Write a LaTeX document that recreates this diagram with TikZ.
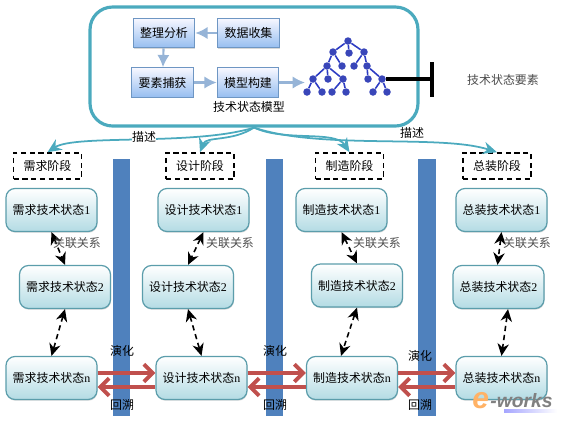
\documentclass[tikz,border=0pt]{standalone}
\usepackage{fontspec}
\setmainfont{Noto Sans CJK SC}
\newfontfamily\latn{Liberation Serif}
\newfontfamily\logofont{Liberation Sans}
\usetikzlibrary{arrows.meta, shadows}
\definecolor{tealline}{RGB}{75,170,190}
\definecolor{barblue}{RGB}{79,129,189}
\definecolor{redflow}{RGB}{192,80,77}
\definecolor{paleflow}{RGB}{150,180,215}
\definecolor{treeblue}{RGB}{45,60,195}
\definecolor{stepbottom}{RGB}{150,190,240}
\definecolor{stepedge}{RGB}{110,150,195}

\begin{document}
\begin{tikzpicture}[
    x=0.02cm, y=-0.02cm,
    every node/.style={font=\fontsize{6.8}{8}\selectfont, inner sep=0pt},
    stepbox/.style={draw=stepedge, line width=0.6pt, minimum width=1.23cm, minimum height=0.59cm, top color=blue!3, bottom color=stepbottom, drop shadow={shadow xshift=0.4pt, shadow yshift=-0.5pt, fill=gray!60}},
    statebox/.style={draw=tealline!70!gray, line width=0.7pt, rounded corners=0.18cm, minimum width=1.82cm, minimum height=0.86cm, top color=white, bottom color=tealline!42, drop shadow={shadow xshift=0.3pt, shadow yshift=-0.7pt, fill=gray!60}},
    stagebox/.style={draw, dash pattern=on 3pt off 2pt, line width=0.9pt, minimum width=1.36cm, minimum height=0.52cm},
    bluebar/.style={fill=barblue, minimum width=0.35cm, minimum height=5.14cm},
    flow/.style={-{Latex[length=7pt,width=7pt]}, paleflow, line width=1.2pt},
    describe/.style={-{Stealth[length=8pt,width=7pt]}, tealline, line width=1pt},
    link/.style={{Stealth[length=7pt,width=6.5pt]}-{Stealth[length=7pt,width=6.5pt]}, dash pattern=on 3pt off 2.2pt, line width=0.9pt},
    evolve/.style={-{Straight Barb[length=5pt,width=10pt,line width=2.2pt]}, redflow, line width=2.4pt},
    treenode/.style={circle, fill=treeblue!85!gray, minimum size=0.15cm},
    graytext/.style={text=black!70}
]
    \useasboundingbox (0,0) rectangle (568,424);

    % model frame
    \node[draw=tealline, line width=1.8pt, rounded corners=0.45cm, minimum width=6.56cm, minimum height=2.38cm] (frame) at (254,66.5) {};
    \node[stepbox] (analyse) at (164,33) {整理分析};
    \node[stepbox] (collect) at (248.5,33) {数据收集};
    \node[stepbox] (capture) at (162.5,82.5) {要素捕获};
    \node[stepbox] (build) at (248,82.5) {模型构建};
    \node (modeltitle) at (249,107) {技术状态模型};
    \draw[flow] (collect) -- (analyse);
    \draw[flow] (analyse) -- (capture);
    \draw[flow] (capture) -- (build);
    \coordinate (treein) at (305,82.5);
    \draw[flow] (build) -- (treein);

    % tree
    \foreach \name/\xpos/\ypos in {a/348/41, b/333/52, c/349/53, d/364/52, e/327/66, f/342/66, g/354/66, h/367/66, i/313/79, j/328/79, k/343/79, l/368/79, m/382/79, n/307/92, o/322/92, p/332/92, q/346/92, r/373/92, s/387/92}
        \node[treenode] (\name) at (\xpos,\ypos) {};
    \foreach \from/\to in {a/b, a/c, a/d, b/e, b/f, d/g, d/h, e/i, e/j, e/k, h/l, h/m, i/n, i/o, k/p, k/q, m/r, m/s}
        \draw[treeblue, line width=0.9pt] (\from) -- (\to);
    \coordinate (barmid) at (432,79);
    \coordinate (bartop) at (432,62);
    \coordinate (barbot) at (432,97);
    \draw[line width=1.8pt] (m) -- (barmid);
    \draw[line width=1.8pt] (bartop) -- (barbot);
    \node[graytext] (elements) at (503,80) {技术状态要素};

    % bars
    \node[bluebar] (bar1) at (121.5,287.5) {};
    \node[bluebar] (bar2) at (274.5,287.5) {};
    \node[bluebar] (bar3) at (427,287.5) {};

    % stages
    \node[stagebox] (reqstage) at (47.5,166) {需求阶段};
    \node[stagebox] (desstage) at (200,166) {设计阶段};
    \node[stagebox] (mfgstage) at (349.5,166) {制造阶段};
    \node[stagebox] (asmstage) at (497,166) {总装阶段};
    \draw[describe] (frame.south) .. controls (195,146) and (75,134) .. (reqstage.north);
    \draw[describe] (frame.south) .. controls (232,142) and (206,136) .. (desstage.north);
    \draw[describe] (frame.south) .. controls (285,142) and (335,130) .. (mfgstage.north);
    \draw[describe] (frame.south) .. controls (320,150) and (440,134) .. (asmstage.north);
    \node[fill=white] (desc1) at (144,137) {描述};
    \node (desc2) at (412,133) {描述};

    % states
    \node[statebox] (req1) at (51.5,210) {需求技术状态{\latn 1}};
    \node[statebox] (des1) at (203.5,210) {设计技术状态{\latn 1}};
    \node[statebox] (mfg1) at (341.5,210) {制造技术状态{\latn 1}};
    \node[statebox] (asm1) at (501.5,210) {总装技术状态{\latn 1}};
    \node[statebox] (req2) at (65,287) {需求技术状态{\latn 2}};
    \node[statebox] (des2) at (188,287) {设计技术状态{\latn 2}};
    \node[statebox] (mfg2) at (357,285.5) {制造技术状态{\latn 2}};
    \node[statebox] (asm2) at (498.5,287) {总装技术状态{\latn 2}};
    \node[statebox] (reqn) at (51.5,378) {需求技术状态{\latn n}};
    \node[statebox] (desn) at (201.5,378) {设计技术状态{\latn n}};
    \node[statebox] (mfgn) at (352,378) {制造技术状态{\latn n}};
    \node[statebox] (asmn) at (501.5,378) {总装技术状态{\latn n}};

    \draw[link] (req1.south) -- (req2.north);
    \draw[link] (des1.south) -- (des2.north);
    \draw[link] (mfg1.south) -- (mfg2.north);
    \draw[link] (asm1.south) -- ([xshift=-0.02cm]asm2.north);
    \draw[link] (req2.south) -- (reqn.north);
    \draw[link] (des2.south) -- (desn.north);
    \draw[link] (mfg2.south) -- ([xshift=-0.22cm]mfgn.north);
    \draw[link] ([xshift=0.19cm]asm2.south) -- (asmn.north);
    \node[graytext] (rel1) at (77,243) {关联关系};
    \node[graytext] (rel2) at (230,243) {关联关系};
    \node[graytext] (rel3) at (377,243) {关联关系};
    \node[graytext] (rel4) at (527,243) {关联关系};

    % evolution
    \draw[evolve] ([yshift=0.1cm]reqn.east) -- ([yshift=0.1cm]desn.west);
    \draw[evolve] ([yshift=-0.18cm]desn.west) -- ([yshift=-0.18cm]reqn.east);
    \draw[evolve] ([yshift=0.1cm]desn.east) -- ([yshift=0.1cm]mfgn.west);
    \draw[evolve] ([yshift=-0.18cm]mfgn.west) -- ([yshift=-0.18cm]desn.east);
    \draw[evolve] ([yshift=0.1cm]mfgn.east) -- ([yshift=0.1cm]asmn.west);
    \draw[evolve] ([yshift=-0.18cm]asmn.west) -- ([yshift=-0.18cm]mfgn.east);
    \node (evo1) at (122,351) {演化};
    \node (evo2) at (275,351) {演化};
    \node (evo3) at (420,356) {演化};
    \node (back1) at (122,405) {回溯};
    \node (back2) at (275,405) {回溯};
    \node (back3) at (420,405) {回溯};

    % logo
    \node[left color=blue!35, right color=white, minimum width=1.06cm, minimum height=0.07cm] (logobar) at (530.5,411) {};
    \node[anchor=west, font=\logofont\bfseries\itshape\fontsize{17}{17}\selectfont, text=orange!60] (logoe) at (472,401) {e};
    \node[anchor=west, font=\logofont\bfseries\itshape\fontsize{11}{11}\selectfont, text=black!50] (logotext) at (490,401) {-works};
\end{tikzpicture}
\end{document}
